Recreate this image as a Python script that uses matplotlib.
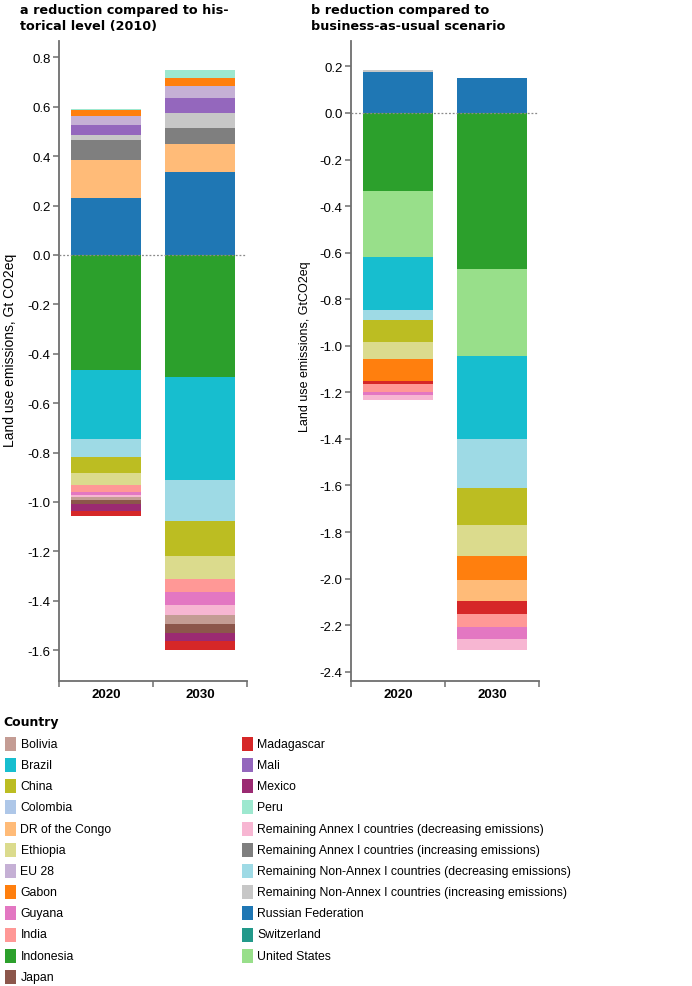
#Land use emissions reductions by country
#a: vs historical level (2010), b: vs business-as-usual
import matplotlib
matplotlib.use('Agg')
import matplotlib.pyplot as plt
from matplotlib.patches import Rectangle

countries = ['Bolivia', 'Brazil', 'China', 'Colombia', 'DR of the Congo', 'Ethiopia',
             'EU 28', 'Gabon', 'Guyana', 'India', 'Indonesia', 'Japan',
             'Madagascar', 'Mali', 'Mexico', 'Peru',
             'Remaining Annex I countries (decreasing emissions)',
             'Remaining Annex I countries (increasing emissions)',
             'Remaining Non-Annex I countries (decreasing emissions)',
             'Remaining Non-Annex I countries (increasing emissions)',
             'Russian Federation', 'Switzerland', 'United States']
colours = ['#c49c94', '#17becf', '#bcbd22', '#aec7e8', '#ffbb78', '#dbdb8d',
           '#c5b0d5', '#ff7f0e', '#e377c2', '#ff9896', '#2ca02c', '#8c564b',
           '#d62728', '#9467bd', '#9b2a72', '#9de8cf',
           '#f7b6d2', '#7f7f7f', '#9edae5', '#c7c7c7',
           '#1f77b4', '#22998a', '#98df8a']
col = dict(zip(countries, colours))

years = ['2020', '2030']

# panel a - compared to 2010
a_pos_names = ['Russian Federation', 'DR of the Congo',
               'Remaining Annex I countries (increasing emissions)',
               'Remaining Non-Annex I countries (increasing emissions)',
               'Mali', 'EU 28', 'Gabon', 'Peru']
a_pos_2020 = [0.230, 0.155, 0.081, 0.021, 0.037, 0.038, 0.023, 0.004]
a_pos_2030 = [0.335, 0.112, 0.066, 0.060, 0.061, 0.050, 0.034, 0.032]

a_neg_names = ['Indonesia', 'Brazil',
               'Remaining Non-Annex I countries (decreasing emissions)',
               'China', 'Ethiopia', 'India', 'Guyana',
               'Remaining Annex I countries (decreasing emissions)',
               'Bolivia', 'Japan', 'Mexico', 'Madagascar']
a_neg_2020 = [-0.465, -0.280, -0.072, -0.067, -0.047, -0.030, -0.013, -0.007,
              -0.013, -0.014, -0.030, -0.017]
a_neg_2030 = [-0.495, -0.415, -0.168, -0.139, -0.097, -0.052, -0.051, -0.039,
              -0.038, -0.038, -0.032, -0.035]

# panel b - compared to business-as-usual
b_pos_names = ['Russian Federation',
               'Remaining Non-Annex I countries (increasing emissions)',
               'Switzerland']
b_pos_2020 = [0.177, 0.008, 0.0]
b_pos_2030 = [0.149, 0.0, 0.003]

b_neg_names = ['Indonesia', 'United States', 'Brazil',
               'Remaining Non-Annex I countries (decreasing emissions)',
               'China', 'Ethiopia', 'Gabon', 'DR of the Congo', 'Madagascar',
               'India', 'Guyana',
               'Remaining Annex I countries (decreasing emissions)']
b_neg_2020 = [-0.335, -0.284, -0.227, -0.045, -0.094, -0.072, -0.093, 0.0,
              -0.014, -0.033, -0.014, -0.021]
b_neg_2030 = [-0.670, -0.374, -0.356, -0.211, -0.161, -0.130, -0.104, -0.092,
              -0.054, -0.057, -0.051, -0.047]

a_ticks = [0.8, 0.6, 0.4, 0.2, 0.0, -0.2, -0.4, -0.6, -0.8, -1.0, -1.2, -1.4, -1.6]
b_ticks = [0.2, 0.0, -0.2, -0.4, -0.6, -0.8, -1.0, -1.2, -1.4, -1.6, -1.8, -2.0, -2.2, -2.4]

W, H = 692, 987
fig = plt.figure(figsize=(W / 100, H / 100), dpi=100)
num_font = ['Liberation Sans', 'DejaVu Sans']
axis_col = '#6e6e6e'


def stack(ax, x, names, vals):
    bottom = 0.0
    for name, v in zip(names, vals):
        if v != 0:
            ax.bar(x, v, bottom=bottom, width=0.74, color=col[name], linewidth=0)
        bottom += v


def panel(ax, pos_names, pos_vals, neg_names, neg_vals, ticks, ylim):
    for i in range(len(years)):
        stack(ax, i, pos_names, pos_vals[i])
        stack(ax, i, neg_names, neg_vals[i])
    ax.axhline(0, color='#8a8a8a', lw=0.9, ls=(0, (1.5, 1.5)), zorder=3)
    ax.set_xlim(-0.5, 1.5)
    ax.set_ylim(*ylim)
    ax.set_yticks(ticks)
    ax.set_yticklabels(['%.1f' % t if t != 0 else '0.0' for t in ticks],
                       family=num_font, fontsize=9.5)
    ax.set_xticks([-0.5, 0.5, 1.5])
    ax.set_xticklabels([])
    ax.set_xticks([0, 1], minor=True)
    ax.set_xticklabels(years, minor=True, family=num_font, fontsize=9.5,
                       fontweight='bold')
    ax.tick_params(axis='x', which='minor', length=0, pad=5)
    ax.tick_params(axis='both', which='major', length=4, width=1.1,
                   color=axis_col, direction='out', pad=2)
    for s in ['top', 'right']:
        ax.spines[s].set_visible(False)
    for s in ['left', 'bottom']:
        ax.spines[s].set_color(axis_col)
        ax.spines[s].set_linewidth(1.3)


ax_a = fig.add_axes([59 / W, 1 - 682 / H, 188 / W, 640 / H])
panel(ax_a, a_pos_names, [a_pos_2020, a_pos_2030],
      a_neg_names, [a_neg_2020, a_neg_2030], a_ticks, (-1.725, 0.866))

ax_b = fig.add_axes([351 / W, 1 - 682 / H, 188 / W, 640 / H])
panel(ax_b, b_pos_names, [b_pos_2020, b_pos_2030],
      b_neg_names, [b_neg_2020, b_neg_2030], b_ticks, (-2.44, 0.309))

# titles
fig.text(20 / W, 1 - 4 / H, 'a reduction compared to his-\ntorical level (2010)',
         ha='left', va='top', fontsize=9.2, fontweight='bold',
         family='DejaVu Sans', linespacing=1.3)
fig.text(311 / W, 1 - 4 / H, 'b reduction compared to\nbusiness-as-usual scenario',
         ha='left', va='top', fontsize=9.2, fontweight='bold',
         family='DejaVu Sans', linespacing=1.3)

# y labels
fig.text(10 / W, 1 - 350 / H, 'Land use emissions, Gt CO2eq', rotation=90,
         ha='center', va='center', family=num_font, fontsize=10)
fig.text(305 / W, 1 - 347 / H, 'Land use emissions, GtCO2eq', rotation=90,
         ha='center', va='center', family=num_font, fontsize=9)

# legend, two columns
fig.text(3 / W, 1 - 723 / H, 'Country', ha='left', va='center',
         fontsize=9, fontweight='bold', family='DejaVu Sans')
n_left = 12
for k, name in enumerate(countries):
    c = k // n_left
    r = k % n_left
    x0 = 5 if c == 0 else 241.5
    yc = 744.7 + r * 21.2
    fig.add_artist(Rectangle((x0 / W, 1 - (yc + 7) / H), 11 / W, 14 / H,
                             transform=fig.transFigure, color=col[name], lw=0))
    fig.text((x0 + 15.5) / W, 1 - yc / H, name, ha='left', va='center',
             family=num_font, fontsize=8.8)

fig.savefig('out.png', dpi=100)
